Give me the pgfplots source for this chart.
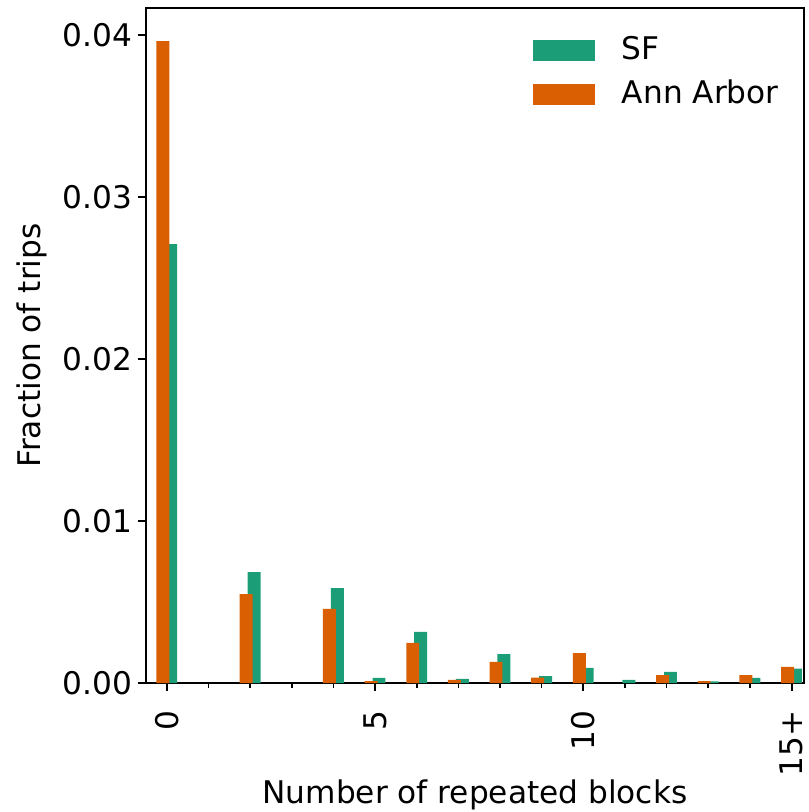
\documentclass[border=0pt]{standalone}
\usepackage{fontspec}
\setmainfont{DejaVu Sans}
\usepackage{pgfplots}
\pgfplotsset{compat=1.18}
\definecolor{sfgreen}{HTML}{1B9E77}
\definecolor{aaorange}{HTML}{D95F02}
\newcommand{\fs}{\fontsize{15.6}{18.7}\selectfont}
\begin{document}
\fs
\begin{tikzpicture}
\begin{axis}[
  scale only axis,
  width=329pt, height=337.5pt,
  xmin=-0.5, xmax=15.3,
  ymin=0, ymax=0.04168,
  axis line style={line width=1pt},
  every tick/.style={black, line width=1pt},
  minor tick style={line width=0.8pt},
  tick align=outside,
  xtick pos=bottom, ytick pos=left,
  major tick length=4pt, minor tick length=2.5pt,
  xtick={0,5,10,15}, xticklabels={0,5,10,15+},
  minor xtick={1,2,3,4,6,7,8,9,11,12,13,14},
  ytick={0,0.01,0.02,0.03,0.04},
  scaled y ticks=false,
  /pgf/number format/fixed,
  /pgf/number format/fixed zerofill,
  /pgf/number format/precision=2,
  /pgf/number format/assume math mode=true,
  every tick label/.append style={font=\fs},
  xticklabel style={yshift=-4.5pt, rotate=90, anchor=east},
  yticklabel style={xshift=2.5pt},
  every axis label/.append style={font=\fs},
  xlabel={Number of repeated blocks},
  ylabel={Fraction of trips},
  xlabel style={at={(axis description cs:0.5,-0.1778)}, anchor=base},
  ylabel style={at={(axis description cs:-0.161,0.5)}, anchor=base},
  ybar, bar width=0.31,
  legend style={draw=none, fill=none, font=\fs, at={(1,1)}, anchor=north east,
    xshift=-7.5pt, yshift=-10pt, row sep=4pt},
  legend cell align=left,
  legend image code/.code={\fill[#1] (0pt,-5.25pt) rectangle (31pt,5.25pt);
    \path[draw=none, fill=none] (0pt,-5.25pt) rectangle (42.5pt,5.25pt);},
]
\addplot[fill=sfgreen, draw=none, bar shift=0.095] coordinates {
(0,0.0271) (2,0.00685) (4,0.00586) (5,0.00031) (6,0.00315) (7,0.00025)
(8,0.00179) (9,0.00043) (10,0.00093) (11,0.00019) (12,0.00068) (13,0.0001)
(14,0.00031) (15,0.00088)};
\addlegendentry{SF}
\addplot[fill=aaorange, draw=none, bar shift=-0.095] coordinates {
(0,0.03963) (2,0.00549) (4,0.00457) (5,0.00012) (6,0.00247) (7,0.00019)
(8,0.0013) (9,0.00033) (10,0.00185) (12,0.00049) (13,0.00012)
(14,0.00049) (15,0.00099)};
\addlegendentry{Ann Arbor}
\end{axis}
\pgfresetboundingbox
\useasboundingbox (-73pt,-64.5pt) rectangle (331pt,341.5pt);
\end{tikzpicture}
\end{document}
